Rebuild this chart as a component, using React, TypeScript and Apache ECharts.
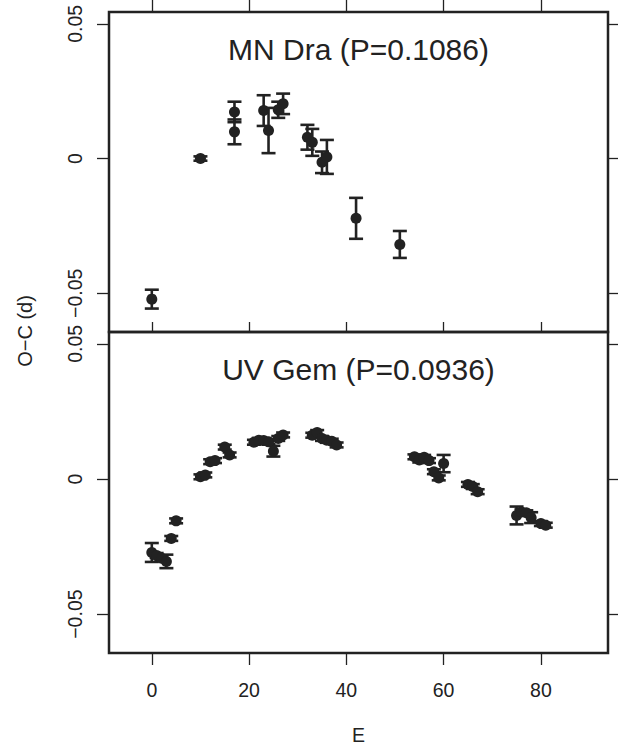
import React, { useEffect, useRef } from "react";
import * as echarts from "echarts";

// MN Dra: cycle number, O-C (days), 1-sigma error
const mnE = [0, 10, 17, 17, 23, 24, 26, 27, 32, 33, 35, 36, 42, 51];
const mnOC = [-0.0522, 0.0, 0.0173, 0.0099, 0.0178, 0.0104, 0.0181, 0.0203, 0.0079, 0.006, -0.0014, 0.0006, -0.0222, -0.0319];
const mnErr = [0.0035, 0.0008, 0.0038, 0.0046, 0.0057, 0.0084, 0.003, 0.0038, 0.0046, 0.005, 0.004, 0.0063, 0.0076, 0.005];

// UV Gem: cycle number, O-C (days), 1-sigma error
const uvE = [0, 1, 2, 3, 4, 5, 10, 11, 12, 13, 15, 16, 21, 22, 23, 24, 25, 26, 27, 33, 34, 35, 36, 37, 38, 54, 55, 56, 57, 58, 59, 60, 65, 66, 67, 75, 76, 77, 78, 80, 81];
const uvOC = [-0.0272, -0.0283, -0.0293, -0.0305, -0.022, -0.0155, 0.0008, 0.0015, 0.0064, 0.0068, 0.0118, 0.0089, 0.0136, 0.0143, 0.0142, 0.0138, 0.0103, 0.015, 0.0163, 0.0162, 0.0172, 0.015, 0.0143, 0.014, 0.0126, 0.0082, 0.007, 0.008, 0.0068, 0.0027, 0.0004, 0.0057, -0.002, -0.0028, -0.0047, -0.0135, -0.0122, -0.0125, -0.0143, -0.0165, -0.0171];
const uvErr = [0.0035, 0.0009, 0.0009, 0.0025, 0.0009, 0.0009, 0.0009, 0.0009, 0.0009, 0.0009, 0.0009, 0.0009, 0.0009, 0.0009, 0.0009, 0.0009, 0.002, 0.0009, 0.0009, 0.0009, 0.0009, 0.0009, 0.0009, 0.0009, 0.0009, 0.0009, 0.0009, 0.0009, 0.0009, 0.0009, 0.0009, 0.0032, 0.0009, 0.0009, 0.0009, 0.0033, 0.0009, 0.0009, 0.002, 0.0009, 0.0009];

const xTicks = [0, 20, 40, 60, 80];
const yTicks = [-0.05, 0, 0.05];
const titles = ["MN Dra (P=0.1086)", "UV Gem (P=0.0936)"];

const INK = "#222222";
const FONT = "Liberation Sans";

const fmtY = (v: number) => (v < 0 ? "\u2212" + String(Math.abs(v)) : String(v));

function errorBarSeries(xi: number, yi: number, es: number[], oc: number[], err: number[]) {
  return {
    type: "custom",
    xAxisIndex: xi,
    yAxisIndex: yi,
    data: es.map((e, i) => [e, oc[i], err[i]]),
    encode: { x: 0, y: 1 },
    renderItem: (_params: any, api: any) => {
      const x = api.value(0);
      const y = api.value(1);
      const e = api.value(2);
      const hi = api.coord([x, y + e]);
      const lo = api.coord([x, y - e]);
      const hw = 7;
      const style = { stroke: INK, lineWidth: 2.6 };
      return {
        type: "group",
        children: [
          { type: "line", shape: { x1: hi[0], y1: hi[1], x2: lo[0], y2: lo[1] }, style },
          { type: "line", shape: { x1: hi[0] - hw, y1: hi[1], x2: hi[0] + hw, y2: hi[1] }, style },
          { type: "line", shape: { x1: lo[0] - hw, y1: lo[1], x2: lo[0] + hw, y2: lo[1] }, style },
        ],
      };
    },
    z: 3,
  };
}

function pointSeries(xi: number, yi: number, es: number[], oc: number[]) {
  return {
    type: "scatter",
    xAxisIndex: xi,
    yAxisIndex: yi,
    data: es.map((e, i) => [e, oc[i]]),
    symbol: "circle",
    symbolSize: 11,
    itemStyle: { color: INK, opacity: 1 },
    z: 4,
  };
}

export default function App() {
  const ref = useRef<HTMLDivElement>(null);

  useEffect(() => {
    if (!ref.current) return;
    const chart = echarts.init(ref.current, null, { renderer: "svg" });

    const xBase = {
      type: "value",
      min: -8.8,
      max: 93.8,
      axisLine: { show: false, onZero: false },
      splitLine: { show: false },
      axisTick: { show: true, inside: false, length: 12, lineStyle: { color: INK, width: 1.3 }, customValues: xTicks },
      axisLabel: { show: false, customValues: xTicks },
    };
    const yBase = {
      type: "value",
      min: -0.0644,
      max: 0.0544,
      axisLine: { show: false, onZero: false },
      splitLine: { show: false },
      axisTick: { show: true, inside: false, length: 12, lineStyle: { color: INK, width: 1.3 }, customValues: yTicks },
      axisLabel: { show: false, customValues: yTicks },
    };
    const yLabel = {
      show: true,
      customValues: yTicks,
      rotate: 90,
      margin: 24,
      fontSize: 19.5,
      fontFamily: FONT,
      color: INK,
      formatter: fmtY,
    };

    chart.setOption({
      animation: false,
      backgroundColor: "#ffffff",
      grid: [
        { left: 109, top: 12, width: 499, height: 320, show: true, borderColor: INK, borderWidth: 2.5, backgroundColor: "transparent" },
        { left: 109, top: 332, width: 499, height: 321, show: true, borderColor: INK, borderWidth: 2.5, backgroundColor: "transparent" },
      ],
      xAxis: [
        { ...xBase, gridIndex: 0, position: "top" },
        {
          ...xBase,
          gridIndex: 1,
          position: "bottom",
          axisLabel: { show: true, customValues: xTicks, margin: 27, fontSize: 19.5, fontFamily: FONT, color: INK },
        },
        { ...xBase, gridIndex: 1, position: "top", axisTick: { ...xBase.axisTick, length: 10 } },
      ],
      yAxis: [
        { ...yBase, gridIndex: 0, position: "left", axisLabel: yLabel },
        { ...yBase, gridIndex: 0, position: "right", axisTick: { ...yBase.axisTick, length: 10 } },
        { ...yBase, gridIndex: 1, position: "left", axisLabel: yLabel },
        { ...yBase, gridIndex: 1, position: "right", axisTick: { ...yBase.axisTick, length: 10 } },
      ],
      graphic: [
        {
          type: "text",
          x: 358.5,
          y: 49,
          style: { text: titles[0], fontSize: 30, fontFamily: FONT, fill: INK, align: "center", verticalAlign: "middle" },
        },
        {
          type: "text",
          x: 358.5,
          y: 369,
          style: { text: titles[1], fontSize: 30, fontFamily: FONT, fill: INK, align: "center", verticalAlign: "middle" },
        },
        {
          type: "text",
          x: 358.5,
          y: 735,
          style: { text: "E", fontSize: 19.5, fontFamily: FONT, fill: INK, align: "center", verticalAlign: "middle" },
        },
        {
          type: "text",
          x: 25,
          y: 331,
          rotation: Math.PI / 2,
          style: { text: "O\u2212C (d)", fontSize: 20, fontFamily: FONT, fill: INK, align: "center", verticalAlign: "middle" },
        },
      ],
      series: [
        errorBarSeries(0, 0, mnE, mnOC, mnErr),
        pointSeries(0, 0, mnE, mnOC),
        errorBarSeries(1, 2, uvE, uvOC, uvErr),
        pointSeries(1, 2, uvE, uvOC),
      ],
    });

    return () => chart.dispose();
  }, []);

  return <div ref={ref} style={{ position: "absolute", left: 0, top: 0, width: 618, height: 747 }} />;
}
